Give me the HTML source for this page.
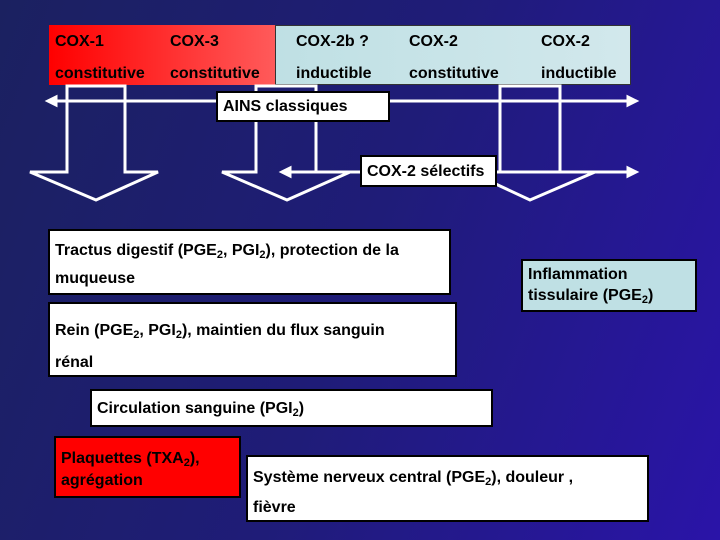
<!DOCTYPE html>
<html><head><meta charset="utf-8"><style>
body{margin:0;width:720px;height:540px;overflow:hidden;background:linear-gradient(110deg,#1b2160 0%,#1f1c78 50%,#2a14a8 100%);font-family:"Liberation Sans",sans-serif;font-weight:bold;position:relative}
.b{position:absolute;background:#fff;border:2px solid #000;box-sizing:border-box;font-size:16px;color:#000;line-height:28px;padding:0 5px}
.t{position:absolute;font-size:16px;color:#000}
sub{font-size:11px;vertical-align:-3px;line-height:0}
svg{position:absolute;left:0;top:0}
</style></head><body>
<div style="position:absolute;left:49px;top:25px;width:226px;height:60px;background:linear-gradient(90deg,#f00,#ff5a5a)"></div>
<div style="position:absolute;left:275px;top:25px;width:356px;height:60px;background:linear-gradient(90deg,#bfe0e4,#d2e8ec);border:1px solid #333;box-sizing:border-box"></div>
<div class="t" style="left:55px;top:33px">COX-1</div>
<div class="t" style="left:170px;top:33px">COX-3</div>
<div class="t" style="left:296px;top:33px">COX-2b ?</div>
<div class="t" style="left:409px;top:33px">COX-2</div>
<div class="t" style="left:541px;top:33px">COX-2</div>
<div class="t" style="left:55px;top:65px">constitutive</div>
<div class="t" style="left:170px;top:65px">constitutive</div>
<div class="t" style="left:296px;top:65px">inductible</div>
<div class="t" style="left:409px;top:65px">constitutive</div>
<div class="t" style="left:541px;top:65px">inductible</div>
<svg width="720" height="540" fill="none" stroke="#fff" stroke-width="3">
<polygon points="67,86 125,86 125,172 158,172 96,200 30,172 67,172"/>
<polygon points="256,86 316,86 316,172 350,172 287,200 222,172 256,172"/>
<polygon points="500,86 560,86 560,172 595,172 530,200 470,172 500,172"/>
<line x1="52" y1="101" x2="632" y2="101"/>
<polygon points="48,101 56,97 56,105" fill="#fff"/>
<polygon points="636,101 628,97 628,105" fill="#fff"/>
<line x1="286" y1="172" x2="632" y2="172"/>
<polygon points="282,172 290,168 290,176" fill="#fff"/>
<polygon points="636,172 628,168 628,176" fill="#fff"/>
</svg>
<div class="b" style="left:216px;top:91px;width:174px;height:31px">AINS classiques</div>
<div class="b" style="left:360px;top:155px;width:137px;height:32px;line-height:30px">COX-2 sélectifs</div>
<div class="b" style="left:48px;top:229px;width:403px;height:66px;line-height:36px;padding-top:2px">Tractus digestif (PGE<sub>2</sub>, PGI<sub>2</sub>), protection de la<br><span style="position:relative;top:-8px">muqueuse</span></div>
<div class="b" style="left:521px;top:259px;width:176px;height:53px;background:#bfe0e4;line-height:21px;padding-top:3px">Inflammation<br>tissulaire (PGE<sub>2</sub>)</div>
<div class="b" style="left:48px;top:302px;width:409px;height:75px;line-height:40px;padding-top:7px">Rein (PGE<sub>2</sub>, PGI<sub>2</sub>), maintien du flux sanguin<br><span style="position:relative;top:-8px">rénal</span></div>
<div class="b" style="left:90px;top:389px;width:403px;height:38px;line-height:36px">Circulation sanguine (PGI<sub>2</sub>)</div>
<div class="b" style="left:54px;top:436px;width:187px;height:62px;background:#f00;line-height:22px;padding-top:10px">Plaquettes (TXA<sub>2</sub>),<br>agrégation</div>
<div class="b" style="left:246px;top:455px;width:403px;height:67px;line-height:30px;padding-top:6px">Système nerveux central (PGE<sub>2</sub>), douleur ,<br>fièvre</div>
</body></html>
